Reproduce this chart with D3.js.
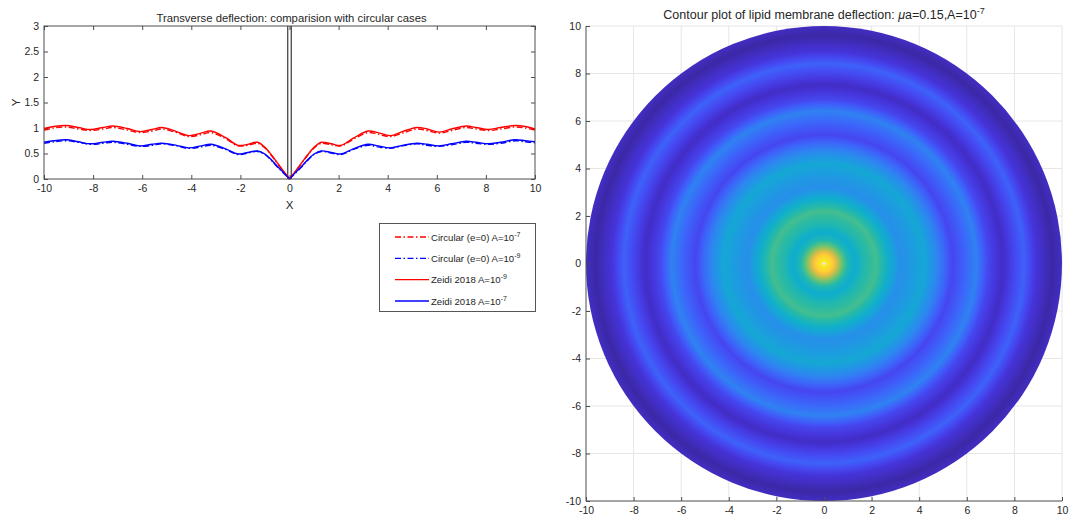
<!DOCTYPE html>
<html>
<head>
<meta charset="utf-8">
<script src="https://cdn.jsdelivr.net/npm/d3@7"></script>
<style>
  body { margin: 0; background: #fff; }
  text { font-family: "Liberation Sans", Arial, sans-serif; fill: #262626; }
</style>
</head>
<body>
<div class="canvas"></div>
<script>
// ---- data: left panel (transverse deflection profiles) ----
const xs = [-10, -9.6, -9.1, -8.6, -8.1, -7.6, -7.2, -6.6, -6.1, -5.6, -5.2, -4.6, -4.1, -3.6, -3.2, -2.6, -2.1, -1.7, -1.3, -1.0, -0.75, -0.5, -0.25,
  0,
  0.25, 0.5, 0.75, 1.0, 1.3, 1.7, 2.1, 2.6, 3.2, 3.6, 4.1, 4.6, 5.2, 5.6, 6.1, 6.6, 7.2, 7.6, 8.1, 8.6, 9.2, 9.6, 10];

const circularA7 = [0.96, 1.00, 1.02, 0.98, 0.95, 0.98, 1.01, 0.96, 0.91, 0.94, 0.98, 0.91, 0.83, 0.87, 0.91, 0.79, 0.65, 0.66, 0.70, 0.61, 0.47, 0.31, 0.15,
  0,
  0.15, 0.31, 0.47, 0.61, 0.70, 0.67, 0.65, 0.78, 0.91, 0.88, 0.83, 0.90, 0.98, 0.95, 0.90, 0.95, 1.01, 0.98, 0.95, 0.98, 1.02, 1.00, 0.96];

const circularA9 = [0.70, 0.73, 0.75, 0.72, 0.68, 0.70, 0.72, 0.68, 0.64, 0.66, 0.69, 0.65, 0.60, 0.63, 0.66, 0.58, 0.48, 0.51, 0.54, 0.48, 0.37, 0.24, 0.12,
  0,
  0.12, 0.24, 0.37, 0.48, 0.54, 0.51, 0.48, 0.58, 0.66, 0.63, 0.60, 0.65, 0.69, 0.66, 0.64, 0.67, 0.72, 0.70, 0.68, 0.70, 0.75, 0.73, 0.71];

const zeidiA9 = [0.99, 1.03, 1.05, 1.01, 0.97, 1.01, 1.04, 0.99, 0.93, 0.97, 1.01, 0.93, 0.85, 0.90, 0.94, 0.81, 0.66, 0.68, 0.72, 0.62, 0.48, 0.32, 0.16,
  0,
  0.16, 0.32, 0.48, 0.62, 0.72, 0.69, 0.66, 0.80, 0.94, 0.91, 0.85, 0.93, 1.01, 0.98, 0.92, 0.98, 1.04, 1.01, 0.97, 1.01, 1.05, 1.03, 0.98];

const zeidiA7 = [0.72, 0.75, 0.77, 0.73, 0.69, 0.72, 0.74, 0.70, 0.65, 0.68, 0.70, 0.66, 0.61, 0.65, 0.68, 0.59, 0.49, 0.52, 0.55, 0.49, 0.38, 0.25, 0.13,
  0,
  0.13, 0.25, 0.38, 0.49, 0.55, 0.52, 0.49, 0.59, 0.68, 0.65, 0.61, 0.66, 0.70, 0.68, 0.65, 0.69, 0.74, 0.72, 0.69, 0.72, 0.77, 0.75, 0.73];

const seriesNames = ['Circular (e=0) A=10', 'Circular (e=0) A=10', 'Zeidi 2018 A=10', 'Zeidi 2018 A=10'];
const seriesExp = ['-7', '-9', '-9', '-7'];
const seriesColors = ['#ff0000', '#0000ff', '#ff0000', '#0000ff'];
const seriesDash = ['6,2.5,1.5,2.5', '6,2.5,1.5,2.5', null, null];
const seriesValues = [circularA7, circularA9, zeidiA9, zeidiA7];

const markerX = [-0.07, 0.07];   // the two thin black vertical lines near x=0

const leftXTicks = [-10, -8, -6, -4, -2, 0, 2, 4, 6, 8, 10];
const leftYTicks = [0, 0.5, 1, 1.5, 2, 2.5, 3];

// ---- data: right panel (radial profile of the contour plot, normalised level) ----
const ringRadius = [0, 0.35, 0.7, 1.0, 1.3, 1.7, 2.2, 2.7, 3.2, 3.7, 4.2, 4.8, 5.4, 5.9, 6.4, 6.9, 7.5, 8.0, 8.4, 8.9, 9.6, 10];
const ringLevel  = [1.0, 0.90, 0.66, 0.50, 0.44, 0.51, 0.57, 0.45, 0.33, 0.37, 0.42, 0.29, 0.14, 0.21, 0.29, 0.14, 0.05, 0.14, 0.21, 0.09, 0.0, 0.05];

const rightTicks = [-10, -8, -6, -4, -2, 0, 2, 4, 6, 8, 10];

// parula-like colormap
const cmapStops  = [0, 0.08, 0.15, 0.22, 0.30, 0.38, 0.45, 0.53, 0.61, 0.71, 0.80, 0.88, 1.0];
const cmapColors = ['#3b28a6', '#4532d6', '#4549f2', '#3c66fa', '#2d86f0', '#1c9ddf', '#0fafcb', '#2abaa3', '#5dc17c', '#a5c254', '#e6bb45', '#fdc838', '#f9f41c'];

// ---- SVG ----
const width = 1077, height = 521;
const svg = d3.select('.canvas').append('svg')
  .attr('width', width).attr('height', height);

const axisGrey = '#4d4d4d';
const tickFont = 10.5;

// ============ LEFT PANEL ============
const lp = {left: 44, right: 535, top: 26, bottom: 179};
const lx = d3.scaleLinear().domain([-10, 10]).range([lp.left, lp.right]);
const ly = d3.scaleLinear().domain([0, 3]).range([lp.bottom, lp.top]);

const left = svg.append('g');

// inward ticks on all four sides
const styleAxis = (g, showLabels) => {
  g.select('.domain').remove();
  g.selectAll('.tick line').attr('stroke', axisGrey);
  g.selectAll('.tick text').attr('font-size', tickFont).attr('fill', '#262626');
  if (!showLabels) g.selectAll('.tick text').remove();
};

left.append('g').attr('transform', `translate(0,${lp.bottom})`)
  .call(d3.axisBottom(lx).tickValues(leftXTicks).tickSize(-4).tickPadding(6).tickFormat(d => String(d)))
  .call(g => styleAxis(g, true));
left.append('g').attr('transform', `translate(0,${lp.top})`)
  .call(d3.axisTop(lx).tickValues(leftXTicks).tickSize(-4))
  .call(g => styleAxis(g, false));
left.append('g').attr('transform', `translate(${lp.left},0)`)
  .call(d3.axisLeft(ly).tickValues(leftYTicks).tickSize(-4).tickPadding(5).tickFormat(d => String(d)))
  .call(g => styleAxis(g, true));
left.append('g').attr('transform', `translate(${lp.right},0)`)
  .call(d3.axisRight(ly).tickValues(leftYTicks).tickSize(-4))
  .call(g => styleAxis(g, false));

// vertical black lines at x ~ 0
left.selectAll('line.marker').data(markerX).enter()
  .append('line')
  .attr('x1', d => lx(d)).attr('x2', d => lx(d))
  .attr('y1', ly(0)).attr('y2', ly(3))
  .attr('stroke', '#111').attr('stroke-width', 1);

// curves: each series drawn as two halves meeting at x=0
const zeroIdx = xs.indexOf(0);
const line = d3.line()
  .x(d => lx(d[0]))
  .y(d => ly(d[1]))
  .curve(d3.curveCatmullRom.alpha(0.5));
const halves = (vals) => {
  const pts = xs.map((x, i) => [x, vals[i]]);
  return line(pts.slice(0, zeroIdx + 1)) + line(pts.slice(zeroIdx));
};

left.selectAll('path.series').data(seriesValues).enter()
  .append('path')
  .attr('class', 'series')
  .attr('d', d => halves(d))
  .attr('fill', 'none')
  .attr('stroke', (d, i) => seriesColors[i])
  .attr('stroke-width', 1.4)
  .attr('stroke-dasharray', (d, i) => seriesDash[i]);

// box
left.append('rect')
  .attr('x', lp.left).attr('y', lp.top)
  .attr('width', lp.right - lp.left).attr('height', lp.bottom - lp.top)
  .attr('fill', 'none').attr('stroke', axisGrey).attr('stroke-width', 1);

// titles / labels
left.append('text')
  .attr('x', (lp.left + lp.right) / 2 + 2).attr('y', 22)
  .attr('text-anchor', 'middle').attr('font-size', 11.3)
  .attr('fill', '#111')
  .text('Transverse deflection: comparision with circular cases');
left.append('text')
  .attr('x', (lp.left + lp.right) / 2).attr('y', 209)
  .attr('text-anchor', 'middle').attr('font-size', 11.5)
  .text('X');
left.append('text')
  .attr('transform', `translate(20,${(lp.top + lp.bottom) / 2}) rotate(-90)`)
  .attr('text-anchor', 'middle').attr('font-size', 11.5)
  .text('Y');

// legend
const legend = left.append('g');
legend.append('rect')
  .attr('x', 379.5).attr('y', 223.5).attr('width', 156).attr('height', 88)
  .attr('fill', '#fff').attr('stroke', '#555').attr('stroke-width', 1);
const rowY = d3.scalePoint().domain(d3.range(seriesNames.length)).range([237, 301]);
const rows = legend.selectAll('g.row').data(seriesNames).enter()
  .append('g').attr('transform', (d, i) => `translate(0,${rowY(i)})`);
rows.append('line')
  .attr('x1', 395).attr('x2', 429).attr('y1', 0).attr('y2', 0)
  .attr('stroke', (d, i) => seriesColors[i]).attr('stroke-width', 1.4)
  .attr('stroke-dasharray', (d, i) => seriesDash[i]);
const lt = rows.append('text')
  .attr('x', 431).attr('y', 3.5).attr('font-size', 9.6).attr('fill', '#111');
lt.append('tspan').text(d => d);
lt.append('tspan').attr('font-size', 7).attr('dy', -4).text((d, i) => seriesExp[i]);

// ============ RIGHT PANEL ============
const rp = {left: 586, right: 1062, top: 26, bottom: 501};
const rx = d3.scaleLinear().domain([-10, 10]).range([rp.left, rp.right]);
const ry = d3.scaleLinear().domain([-10, 10]).range([rp.bottom, rp.top]);
const color = d3.scaleLinear().domain(cmapStops).range(cmapColors).interpolate(d3.interpolateRgb);

const right = svg.append('g');

// grid
right.selectAll('line.gx').data(rightTicks.slice(1)).enter()
  .append('line')
  .attr('x1', d => rx(d)).attr('x2', d => rx(d))
  .attr('y1', rp.top).attr('y2', rp.bottom)
  .attr('stroke', '#e6e6e6');
right.selectAll('line.gy').data(rightTicks.slice(1)).enter()
  .append('line')
  .attr('x1', rp.left).attr('x2', rp.right)
  .attr('y1', d => ry(d)).attr('y2', d => ry(d))
  .attr('stroke', '#e6e6e6');

// radial gradient built from the ring profile
const defs = svg.append('defs');
const grad = defs.append('radialGradient')
  .attr('id', 'membrane')
  .attr('gradientUnits', 'userSpaceOnUse')
  .attr('cx', rx(0)).attr('cy', ry(0))
  .attr('r', rx(10) - rx(0));
const stops = [];
ringRadius.forEach((r, i) => {
  if (i === 0) { stops.push([r, ringLevel[i]]); return; }
  const r0 = ringRadius[i - 1], v0 = ringLevel[i - 1];
  for (let k = 1; k <= 6; k++) {
    const t = k / 6;
    stops.push([r0 + (r - r0) * t, v0 + (ringLevel[i] - v0) * t]);
  }
});
grad.selectAll('stop').data(stops).enter()
  .append('stop')
  .attr('offset', d => d[0] / 10)
  .attr('stop-color', d => color(d[1]));

right.append('ellipse')
  .attr('cx', rx(0)).attr('cy', ry(0))
  .attr('rx', rx(10) - rx(0)).attr('ry', ry(-10) - ry(0))
  .attr('fill', 'url(#membrane)');

// small marker at origin
right.append('circle')
  .attr('cx', rx(0)).attr('cy', ry(0)).attr('r', 1.6)
  .attr('fill', '#e8e8e8');

// axes (left + bottom, inward ticks)
right.append('g').attr('transform', `translate(0,${rp.bottom})`)
  .call(d3.axisBottom(rx).tickValues(rightTicks).tickSize(-4).tickPadding(6).tickFormat(d => String(d)))
  .call(g => styleAxis(g, true));
right.append('g').attr('transform', `translate(${rp.left},0)`)
  .call(d3.axisLeft(ry).tickValues(rightTicks).tickSize(-4).tickPadding(5).tickFormat(d => String(d)))
  .call(g => styleAxis(g, true));
right.append('line')
  .attr('x1', rp.left).attr('x2', rp.right).attr('y1', rp.bottom).attr('y2', rp.bottom)
  .attr('stroke', axisGrey);
right.append('line')
  .attr('x1', rp.left).attr('x2', rp.left).attr('y1', rp.top).attr('y2', rp.bottom)
  .attr('stroke', axisGrey);

const rt = right.append('text')
  .attr('x', (rp.left + rp.right) / 2).attr('y', 19)
  .attr('text-anchor', 'middle').attr('font-size', 12.5).attr('fill', '#111');
rt.append('tspan').text('Contour plot of lipid membrane deflection: ');
rt.append('tspan').attr('font-style', 'italic').text('μ');
rt.append('tspan').text('a=0.15,A=10');
rt.append('tspan').attr('font-size', 9).attr('dy', -5).text('-7');
</script>
</body>
</html>
